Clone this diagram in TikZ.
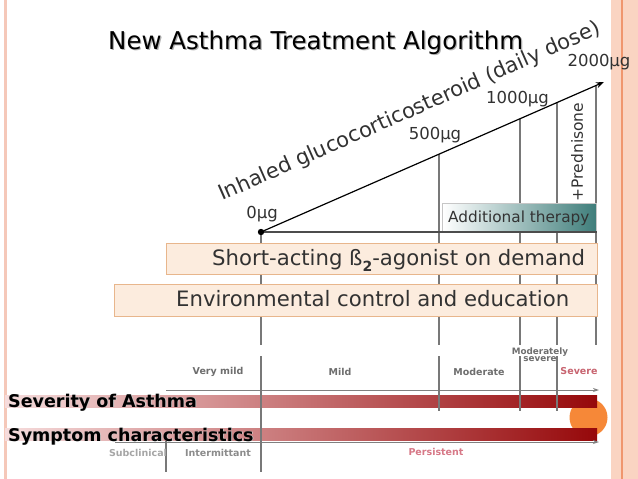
\documentclass[tikz,border=0pt]{standalone}
\usepackage{fontspec}
\setmainfont{DejaVu Sans}
\usetikzlibrary{arrows.meta}
\definecolor{peachband}{RGB}{250,212,194}
\definecolor{orangeline}{RGB}{240,150,110}
\definecolor{leftline}{RGB}{245,200,185}
\definecolor{boxfill}{RGB}{252,236,222}
\definecolor{boxedge}{RGB}{232,182,140}
\definecolor{tealc}{RGB}{62,125,122}
\definecolor{darkredc}{RGB}{150,8,10}
\definecolor{midredc}{RGB}{214,112,116}
\definecolor{lightpink}{RGB}{246,220,220}
\definecolor{rosy}{RGB}{200,100,112}
\definecolor{rosylight}{RGB}{215,120,135}
\definecolor{orangedot}{RGB}{246,136,56}
\definecolor{txtgray}{RGB}{50,50,50}
\definecolor{lblgray}{RGB}{110,110,110}
\definecolor{linegray}{RGB}{120,120,120}
\newcommand{\fsz}[1]{\fontsize{#1}{#1}\selectfont}
\tikzset{
  vline/.style={draw=linegray, line width=1.4},
  bandbox/.style={draw=boxedge, line width=1, fill=boxfill},
  redbar/.style={left color=lightpink, middle color=midredc, right color=darkredc},
  grayarrow/.style={draw=gray, line width=1, -{Stealth[length=6,width=4]}},
  boxtext/.style={anchor=base west, inner sep=0, text=txtgray, font=\fsz{21.2}},
  dosetext/.style={inner sep=0, text=txtgray, font=\fsz{16.5}},
  sevtext/.style={inner sep=0, text=lblgray, font=\bfseries\fsz{9.5}},
  headtext/.style={anchor=base west, inner sep=0, font=\bfseries\fsz{17.5}},
}
\begin{document}
\begin{tikzpicture}[x=1pt,y=-1pt]
\useasboundingbox (0,0) rectangle (638,479);
\fill[white] (0,0) rectangle (638,479);
% frame decorations
\fill[peachband] (611,0) rectangle (638,479);
\draw[orangeline, line width=1.5] (622,0) -- (622,479);
\draw[leftline, line width=3] (5,0) -- (5,479);
% title
\node[anchor=base west, inner sep=0, font=\fsz{24.5}] (title) at (108,49)
  {\makebox[0pt][l]{\hspace{1.2pt}\raisebox{-1.2pt}{\color{black!30}New Asthma Treatment Algorithm}}New Asthma Treatment Algorithm};
% key coordinates
\coordinate (O) at (261,232);
\coordinate (E) at (604,82);
\coordinate (d500) at (439,154.2);
\coordinate (d1000) at (520,118.7);
\coordinate (d1500) at (557,102.6);
\coordinate (d2000) at (596,85.5);
\coordinate (b0) at (261,345);
\coordinate (b500) at (439,345);
\coordinate (b1000) at (520,345);
\coordinate (b1500) at (557,345);
\coordinate (b2000) at (596,345);
% orange dot behind bars
\fill[orangedot] (588.5,417.5) circle (19);
% bars
\shade[redbar] (5,395) rectangle (597,407);
\shade[redbar] (5,428) rectangle (597,440);
\coordinate (sa) at (166,390); \coordinate (sb) at (599,390);
\coordinate (ya) at (115,442); \coordinate (yb) at (599,442);
\draw[grayarrow] (sa) -- (sb);
\draw[grayarrow] (ya) -- (yb);
% upper vertical lines
\draw[vline] (O) -- (b0);
\draw[vline] (d500) -- (b500);
\draw[vline] (d1000) -- (b1000);
\draw[vline] (d1500) -- (b1500);
\draw[vline] (d2000) -- (b2000);
% lower vertical lines
\coordinate (l0a) at (261,356); \coordinate (l0b) at (261,472);
\coordinate (l1a) at (439,356); \coordinate (l1b) at (439,411);
\coordinate (l2a) at (520,356); \coordinate (l2b) at (520,411);
\coordinate (l3a) at (557,356); \coordinate (l3b) at (557,411);
\coordinate (lsa) at (166,441); \coordinate (lsb) at (166,472);
\draw[vline] (l0a) -- (l0b);
\draw[vline] (l1a) -- (l1b);
\draw[vline] (l2a) -- (l2b);
\draw[vline] (l3a) -- (l3b);
\draw[vline] (lsa) -- (lsb);
% boxes
\shade[left color=white, right color=tealc, draw=gray!45, line width=0.8] (442.7,203.3) rectangle (596.7,232.7);
\node[anchor=base west, inner sep=0, text=txtgray, font=\fsz{15.3}] (addl) at (448,222) {Additional therapy};
\draw[bandbox] (166,243) rectangle (597,274);
\node[boxtext] (saba) at (212,265.5) {Short-acting ß\raisebox{-0.28em}{\bfseries\fsz{14}2}-agonist on demand};
\draw[bandbox] (114,284) rectangle (597,316);
\node[boxtext] (env) at (176,306) {Environmental control and education};
% baseline and diagonal
\draw[draw=black!70, line width=1.6] (O) -- (596.7,232);
\draw[line width=1.2, -{Stealth[length=8,width=6]}] (O) -- (E);
\fill (O) circle (3.2);
% diagonal labels
\node[anchor=base west, inner sep=0, rotate=23.8, text=txtgray, font=\fsz{21}] (ics) at (222,201)
  {Inhaled glucocorticosteroid (daily dose)};
\node[dosetext] (u0) at (262,214) {0µg};
\node[dosetext] (u500) at (435,135.5) {500µg};
\node[dosetext] (u1000) at (517.5,99) {1000µg};
\node[dosetext] (u2000) at (599,62) {2000µg};
\node[inner sep=0, rotate=90, text=txtgray, font=\fsz{15.5}] (pred) at (577,152) {+Prednisone};
% severity labels
\node[sevtext] (vmild) at (218,371.5) {Very mild};
\node[sevtext] (mild) at (340,371.5) {Mild};
\node[sevtext] (mod) at (479,371.5) {Moderate};
\node[sevtext, align=center, font=\bfseries\fsz{8.8}] (modsev) at (540,354.5) {Moderately\\[-1.5pt]severe};
\node[sevtext, text=rosy] (sev) at (579,371.5) {Severe};
% headings
\node[headtext] (hsev) at (8,407) {\makebox[0pt][l]{\hspace{0.8pt}\raisebox{-0.8pt}{\color{black!20}Severity of Asthma}}Severity of Asthma};
\node[headtext] (hsym) at (8,441) {\makebox[0pt][l]{\hspace{0.8pt}\raisebox{-0.8pt}{\color{black!20}Symptom characteristics}}Symptom characteristics};
% symptom labels
\node[sevtext, text=black!35] (subc) at (138,452.5) {Subclinical};
\node[sevtext, text=black!45] (interm) at (218,452.5) {Intermittant};
\node[sevtext, text=rosylight] (pers) at (436,451.5) {Persistent};
\end{tikzpicture}
\end{document}
